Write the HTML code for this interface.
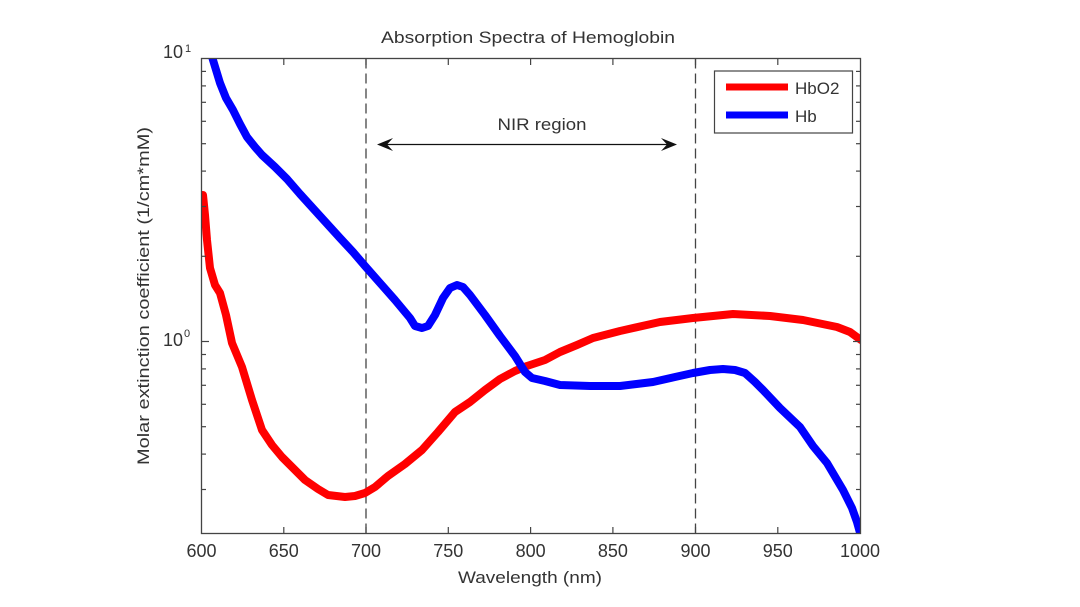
<!DOCTYPE html>
<html>
<head>
<meta charset="utf-8">
<style>
  html,body{margin:0;padding:0;background:#fff;}
  svg{display:block;}
  text{font-family:"Liberation Sans","DejaVu Sans",sans-serif;fill:#333;}
</style>
</head>
<body>
<svg width="1080" height="607" viewBox="0 0 1080 607" xmlns="http://www.w3.org/2000/svg">
  <defs>
    <clipPath id="plot">
      <rect x="201.5" y="58.5" width="659" height="475"/>
    </clipPath>
  </defs>
  <rect width="1080" height="607" fill="#fff"/>

  <!-- Title -->
  <text x="528" y="43" font-size="17" text-anchor="middle" textLength="294" lengthAdjust="spacingAndGlyphs">Absorption Spectra of Hemoglobin</text>

  <!-- dashed NIR lines -->
  <g stroke="#444" stroke-width="1.3" stroke-dasharray="10,5">
    <line x1="366" y1="58.5" x2="366" y2="533.5"/>
    <line x1="695.5" y1="58.5" x2="695.5" y2="533.5"/>
  </g>

  <!-- NIR arrow -->
  <line x1="382" y1="144.5" x2="672" y2="144.5" stroke="#111" stroke-width="1.3"/>
  <path d="M377,144.5 L393,138 L387,144.5 L393,151 Z" fill="#111"/>
  <path d="M677,144.5 L661,138 L667,144.5 L661,151 Z" fill="#111"/>
  <text x="542" y="130" font-size="17" text-anchor="middle" textLength="89" lengthAdjust="spacingAndGlyphs">NIR region</text>

  <!-- Curves -->
  <g clip-path="url(#plot)" fill="none" stroke-linejoin="round" stroke-linecap="round" stroke-width="8">
    <polyline stroke="#ff0000" points="203,195 205,215 207,240 210,268 215,285 220,293 226,315 232,343 242,367 252,400 262,430 272,445 282,457 295,470 305,480 318,489 328,495 345,497 355,496 365,493 375,487 388,476 405,464 422,450 438,432 455,412 470,402 485,390 500,379 515,371 527,366 545,360 560,352 577,345 593,338 620,331 660,322 693,318 733,314 770,316 803,320 837,327 850,332 861,340"/>
    <polyline stroke="#0000ff" points="210,50 213,60 220,83 226,98 233,110 240,124 247,137 255,147 262,155 275,167 287,179 300,194 320,216 340,238 353,252 365,266 380,283 395,300 410,318 415,326 422,328 428,326 435,315 443,298 450,288 457,285 463,287 470,295 485,315 500,336 515,356 525,372 532,378 545,381 560,385 590,386 620,386 653,382 675,377 693,373 710,370 723,369 735,370 745,373 755,382 763,390 780,408 800,427 813,446 827,463 843,490 852,508 857,522 862,540"/>
  </g>

  <!-- Axes box -->
  <rect x="201.5" y="58.5" width="659" height="475" fill="none" stroke="#444" stroke-width="1.3"/>

  <!-- x ticks (bottom and top) -->
  <g stroke="#444" stroke-width="1.2">
    <line x1="283.8" y1="533.5" x2="283.8" y2="527"/>
    <line x1="366" y1="533.5" x2="366" y2="527"/>
    <line x1="448.3" y1="533.5" x2="448.3" y2="527"/>
    <line x1="530.6" y1="533.5" x2="530.6" y2="527"/>
    <line x1="612.9" y1="533.5" x2="612.9" y2="527"/>
    <line x1="695.5" y1="533.5" x2="695.5" y2="527"/>
    <line x1="777.8" y1="533.5" x2="777.8" y2="527"/>
    <line x1="283.8" y1="58.5" x2="283.8" y2="65"/>
    <line x1="366" y1="58.5" x2="366" y2="65"/>
    <line x1="448.3" y1="58.5" x2="448.3" y2="65"/>
    <line x1="530.6" y1="58.5" x2="530.6" y2="65"/>
    <line x1="612.9" y1="58.5" x2="612.9" y2="65"/>
    <line x1="695.5" y1="58.5" x2="695.5" y2="65"/>
    <line x1="777.8" y1="58.5" x2="777.8" y2="65"/>
  </g>

  <!-- y ticks (log) left and right -->
  <g stroke="#444" stroke-width="1.2">
    <!-- major -->
    <line x1="201.5" y1="341.5" x2="209" y2="341.5"/>
    <line x1="860.5" y1="341.5" x2="853" y2="341.5"/>
    <!-- decade 1-10 minor: 2..9 -->
    <line x1="201.5" y1="256.3" x2="206" y2="256.3"/>
    <line x1="201.5" y1="206.5" x2="206" y2="206.5"/>
    <line x1="201.5" y1="171.1" x2="206" y2="171.1"/>
    <line x1="201.5" y1="143.7" x2="206" y2="143.7"/>
    <line x1="201.5" y1="121.3" x2="206" y2="121.3"/>
    <line x1="201.5" y1="102.3" x2="206" y2="102.3"/>
    <line x1="201.5" y1="85.9" x2="206" y2="85.9"/>
    <line x1="201.5" y1="71.4" x2="206" y2="71.4"/>
    <line x1="860.5" y1="256.3" x2="856" y2="256.3"/>
    <line x1="860.5" y1="206.5" x2="856" y2="206.5"/>
    <line x1="860.5" y1="171.1" x2="856" y2="171.1"/>
    <line x1="860.5" y1="143.7" x2="856" y2="143.7"/>
    <line x1="860.5" y1="121.3" x2="856" y2="121.3"/>
    <line x1="860.5" y1="102.3" x2="856" y2="102.3"/>
    <line x1="860.5" y1="85.9" x2="856" y2="85.9"/>
    <line x1="860.5" y1="71.4" x2="856" y2="71.4"/>
    <!-- decade 0.1-1 minor: 0.3..0.9 -->
    <line x1="201.5" y1="354.5" x2="206" y2="354.5"/>
    <line x1="201.5" y1="368.9" x2="206" y2="368.9"/>
    <line x1="201.5" y1="385.3" x2="206" y2="385.3"/>
    <line x1="201.5" y1="404.3" x2="206" y2="404.3"/>
    <line x1="201.5" y1="426.7" x2="206" y2="426.7"/>
    <line x1="201.5" y1="454.1" x2="206" y2="454.1"/>
    <line x1="201.5" y1="489.5" x2="206" y2="489.5"/>
    <line x1="860.5" y1="354.5" x2="856" y2="354.5"/>
    <line x1="860.5" y1="368.9" x2="856" y2="368.9"/>
    <line x1="860.5" y1="385.3" x2="856" y2="385.3"/>
    <line x1="860.5" y1="404.3" x2="856" y2="404.3"/>
    <line x1="860.5" y1="426.7" x2="856" y2="426.7"/>
    <line x1="860.5" y1="454.1" x2="856" y2="454.1"/>
    <line x1="860.5" y1="489.5" x2="856" y2="489.5"/>
  </g>

  <!-- x tick labels -->
  <g font-size="18" text-anchor="middle">
    <text x="201.5" y="557">600</text>
    <text x="283.8" y="557">650</text>
    <text x="366" y="557">700</text>
    <text x="448.3" y="557">750</text>
    <text x="530.6" y="557">800</text>
    <text x="612.9" y="557">850</text>
    <text x="695.5" y="557">900</text>
    <text x="777.8" y="557">950</text>
    <text x="860" y="557">1000</text>
  </g>

  <!-- y tick labels -->
  <text x="183" y="58" font-size="18" text-anchor="end">10</text>
  <text x="185" y="52" font-size="11">1</text>
  <text x="183" y="346" font-size="18" text-anchor="end">10</text>
  <text x="184" y="337" font-size="11">0</text>

  <!-- axis labels -->
  <text x="530" y="583" font-size="17" text-anchor="middle" textLength="144" lengthAdjust="spacingAndGlyphs">Wavelength (nm)</text>
  <text transform="translate(149,296) rotate(-90)" font-size="17" text-anchor="middle" textLength="338" lengthAdjust="spacingAndGlyphs">Molar extinction coefficient (1/cm*mM)</text>

  <!-- Legend -->
  <rect x="714.5" y="71" width="138" height="62" fill="#fff" stroke="#444" stroke-width="1.2"/>
  <line x1="726" y1="87" x2="788" y2="87" stroke="#ff0000" stroke-width="7"/>
  <line x1="726" y1="115" x2="788" y2="115" stroke="#0000ff" stroke-width="7"/>
  <text x="795" y="94" font-size="17">HbO2</text>
  <text x="795" y="122" font-size="17">Hb</text>
</svg>
</body>
</html>
